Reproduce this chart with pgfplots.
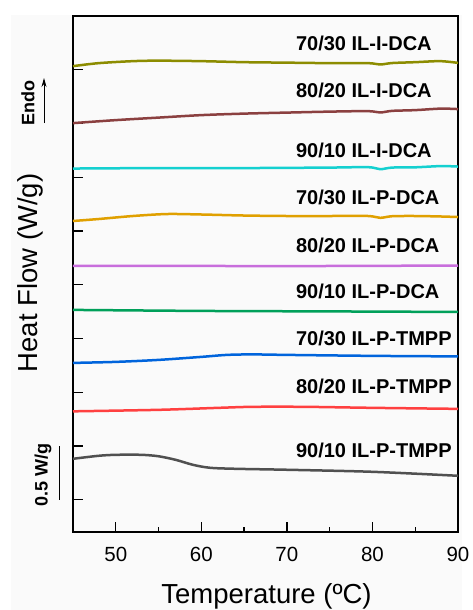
\documentclass[border=0pt]{standalone}
\usepackage{fontspec}
\setmainfont{Liberation Sans}
\usepackage{pgfplots}
\pgfplotsset{compat=1.18}
\usetikzlibrary{backgrounds,arrows.meta}

\definecolor{bgcol}{RGB}{250,250,250}
\definecolor{colive}{RGB}{140,140,0}
\definecolor{cbrown}{RGB}{139,64,64}
\definecolor{ccyan}{RGB}{20,208,208}
\definecolor{corange}{RGB}{224,160,0}
\definecolor{cviolet}{RGB}{200,110,220}
\definecolor{cgreen}{RGB}{0,160,90}
\definecolor{cblue}{RGB}{0,100,220}
\definecolor{cred}{RGB}{255,64,64}
\definecolor{cgray}{RGB}{80,80,80}

\begin{document}
\begin{tikzpicture}
\path[use as bounding box] (-73pt,-78pt) rectangle (399pt,532pt);
\begin{axis}[
  at={(0,0)}, anchor=south west,
  scale only axis, width=385pt, height=516pt,
  xmin=45, xmax=90, ymin=-0.6, ymax=9.0,
  xtick={50,60,70,80,90}, minor xtick={55,65,75,85},
  ytick={0,...,8}, yticklabels={},
  tick pos=left, tick align=inside,
  major tick length=10pt, minor tick length=5pt,
  axis line style={line width=1.3pt},
  every tick/.style={black, line width=1.3pt},
  ticklabel style={font=\fontsize{20.5}{24}\selectfont},
  /pgf/number format/assume math mode=true,
  xticklabel style={yshift=-12pt},
  xlabel={Temperature (ºC)}, ylabel={Heat Flow (W/g)},
  every axis x label/.style={at={(axis description cs:0.5026,-0.124)}, anchor=center, font=\fontsize{27.5}{32}\selectfont},
  every axis y label/.style={at={(axis description cs:-0.1117,0.502)}, rotate=90, anchor=center, font=\fontsize{27.5}{32}\selectfont},
  clip=false,
  every axis plot/.append style={line width=2.5pt, no markers, smooth}
]

% 70/30 IL-I-DCA
\addplot[colive] coordinates {
(45,8.067) (48,8.123) (52,8.160) (55,8.169) (60,8.160) (65,8.141) (70,8.132)
(75,8.123) (79.5,8.123) (80.9,8.098) (82.3,8.125) (85,8.141) (87.9,8.160) (90,8.128)};

% 80/20 IL-I-DCA
\addplot[cbrown] coordinates {
(45,7.007) (50,7.063) (55,7.110) (60,7.156) (65,7.184) (70,7.203) (75,7.221)
(79.5,7.230) (80.9,7.205) (82.3,7.235) (85,7.249) (88,7.277) (90,7.268)};

% 90/10 IL-I-DCA
\addplot[ccyan] coordinates {
(45,6.162) (55,6.171) (65,6.171) (75,6.180) (79.5,6.188) (80.9,6.150) (82.3,6.180)
(85,6.185) (88,6.208) (90,6.199)};

% 70/30 IL-P-DCA
\addplot[corange] coordinates {
(45,5.186) (48,5.223) (52,5.279) (56,5.316) (60,5.307) (65,5.288) (70,5.279)
(75,5.279) (79.5,5.279) (80.9,5.245) (82.3,5.275) (85,5.279) (88,5.270) (90,5.260)};

% 80/20 IL-P-DCA
\addplot[cviolet] coordinates {
(45,4.349) (60,4.349) (75,4.349) (90,4.358)};

% 90/10 IL-P-DCA
\addplot[cgreen] coordinates {
(45,3.532) (60,3.513) (75,3.504) (90,3.494)};

% 70/30 IL-P-TMPP
\addplot[cblue] coordinates {
(45,2.546) (50,2.565) (55,2.602) (60,2.658) (63,2.695) (66,2.704) (70,2.695)
(80,2.677) (90,2.667)};

% 80/20 IL-P-TMPP
\addplot[cred] coordinates {
(45,1.645) (55,1.673) (62,1.710) (66,1.729) (72,1.729) (80,1.710) (90,1.691)};

% 90/10 IL-P-TMPP
\addplot[cgray] coordinates {
(45,0.762) (48,0.818) (50,0.836) (53,0.836) (55,0.809) (57,0.743) (59,0.651)
(61,0.595) (64,0.576) (70,0.558) (80,0.520) (90,0.446)};

\begin{scope}[every node/.style={anchor=west, inner sep=0pt, font=\bfseries\fontsize{20}{24}\selectfont}]
\node at (axis cs:71.05,8.48) {70/30 IL-I-DCA};
\node at (axis cs:71.05,7.62) {80/20 IL-I-DCA};
\node at (axis cs:71.05,6.49) {90/10 IL-I-DCA};
\node at (axis cs:71.05,5.63) {70/30 IL-P-DCA};
\node at (axis cs:71.05,4.74) {80/20 IL-P-DCA};
\node at (axis cs:71.05,3.88) {90/10 IL-P-DCA};
\node at (axis cs:71.05,3.01) {70/30 IL-P-TMPP};
\node at (axis cs:71.05,2.10) {80/20 IL-P-TMPP};
\node at (axis cs:71.05,0.91) {90/10 IL-P-TMPP};
\end{scope}

\node[rotate=90, inner sep=0pt, font=\bfseries\fontsize{18}{21}\selectfont] at (axis description cs:-0.1169,0.832) {Endo};
\draw[-{Stealth[length=9pt,width=5pt]}, line width=0.8pt] (axis description cs:-0.0753,0.7926) -- (axis description cs:-0.0753,0.8798);
\node[rotate=90, inner sep=0pt, font=\bfseries\fontsize{18}{21}\selectfont] at (axis description cs:-0.0779,0.1105) {0.5 W/g};
\draw[line width=1pt] (axis description cs:-0.0338,0.0625) -- (axis description cs:-0.0338,0.1667);
\end{axis}
\begin{scope}[on background layer]
\fill[bgcol] (-62pt,-78pt) rectangle (389pt,517pt);
\end{scope}
\end{tikzpicture}
\end{document}
